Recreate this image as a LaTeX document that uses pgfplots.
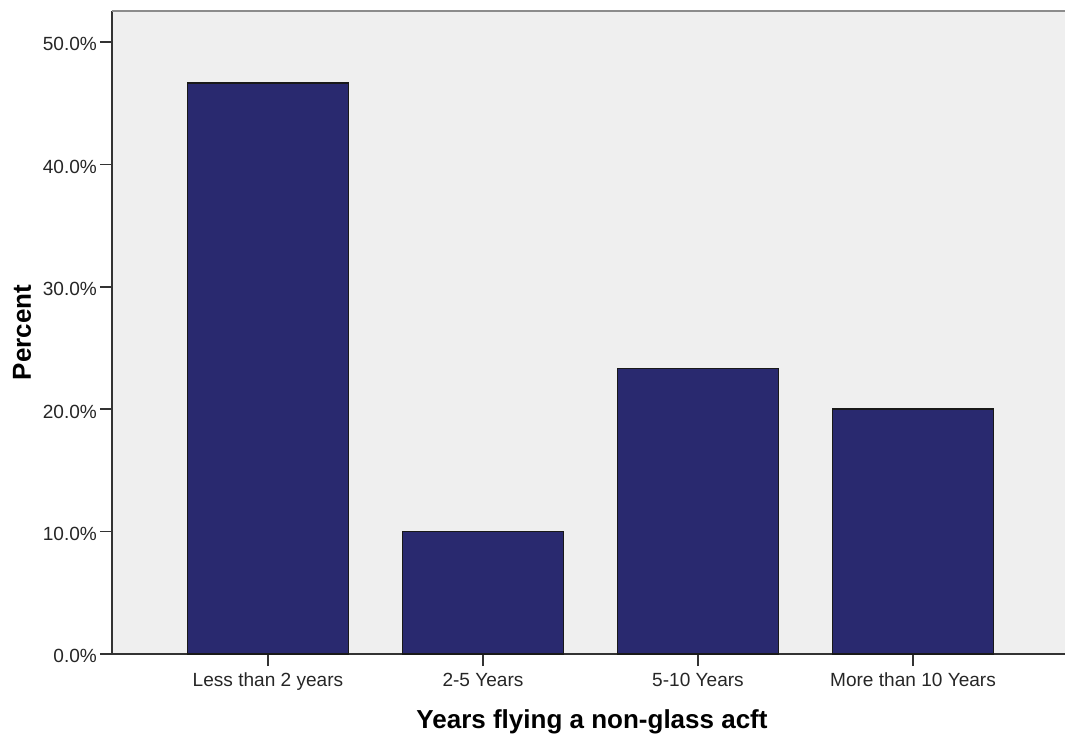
\documentclass[border=0pt]{standalone}
\usepackage{fontspec}
\setmainfont{Liberation Sans}
\usepackage{pgfplots}
\pgfplotsset{compat=1.18}
\definecolor{barblue}{RGB}{41,41,111}
\definecolor{bgray}{RGB}{239,239,239}
\begin{document}
\begin{tikzpicture}
\begin{axis}[
  scale only axis, width=714.75pt, height=482.25pt,
  xmin=-0.7256, xmax=3.707, ymin=0, ymax=52.53,
  axis x line=bottom, axis y line=left,
  axis line style={-, draw=black!80, line width=1.3pt},
  xtick={0,1,2,3},
  xticklabels={Less than 2 years, 2-5 Years, 5-10 Years, More than 10 Years},
  ytick={0,10,20,30,40,50},
  yticklabels={0.0\%,10.0\%,20.0\%,30.0\%,40.0\%,50.0\%},
  tick align=outside, major tick length=9pt,
  tick style={draw=black!80, line width=1.3pt},
  /pgf/number format/assume math mode=true,
  ticklabel style={font=\fontsize{14.3}{17}\selectfont, text=black!85},
  xticklabel style={yshift=-1.5pt},
  yticklabel style={yshift=-1.8pt, xshift=1.2pt},
  xlabel={Years flying a non-glass acft},
  ylabel={Percent},
  label style={font=\fontsize{19.5}{23}\selectfont\bfseries},
  xlabel style={at={(axis description cs:0.5037,-0.1166)}, anchor=base},
  ylabel style={at={(axis description cs:-0.0944,0.5)}, anchor=center, rotate=0},
  axis background/.style={fill=bgray},
  ybar, bar width=0.749,
]
\addplot[fill=barblue, draw=black!90, line width=1.2pt] coordinates {(0,46.67) (1,10) (2,23.33) (3,20)};
\draw[black!45, line width=1.5pt] (rel axis cs:0,1) -- (rel axis cs:1,1);
\end{axis}
\pgfresetboundingbox
\path (current axis.south west) ++(-84pt,-61.5pt) coordinate (bl);
\path (current axis.north east) ++(0pt,8.25pt) coordinate (tr);
\useasboundingbox (bl) rectangle (tr);
\end{tikzpicture}
\end{document}
